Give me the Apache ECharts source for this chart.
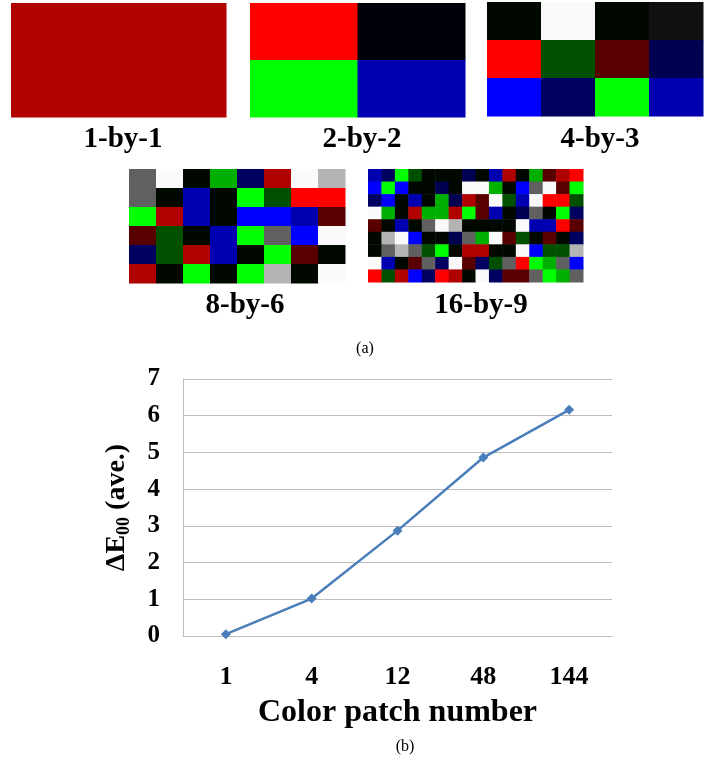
<!DOCTYPE html>
<html><head><meta charset="utf-8">
<script src="https://cdn.jsdelivr.net/npm/echarts@6/dist/echarts.min.js"></script>
<style>html,body{margin:0;padding:0;background:#fff}#c{width:722px;height:764px}</style>
</head><body><div id="c"></div>
<script>
// ---- palette names used by patch grids ----
const K='#000800', W='#fafafa', G='#606060', L='#b4b4b4', D='#101010';
const R='#ff0000', r='#b00000', M='#580000';
const Gn='#00ff00', g='#00b000', dg='#005000';
const B='#0000ff', b='#0000b0', N='#000060', n='#000050';

// ---- patch grids (rows top to bottom) ----
const patch1x1 = [[r]];
const patch2x2 = [[R,'#000008'],[Gn,b]];
const patch4x3 = [
  [K,W,K,D],
  [R,dg,M,n],
  [B,N,Gn,b]
];
const patch8x6 = [
  [G,W,K,g,N,r,W,L],
  [G,K,b,K,Gn,dg,R,R],
  [Gn,r,b,K,B,B,b,M],
  [M,dg,K,b,Gn,G,B,W],
  [N,dg,r,b,K,Gn,M,K],
  [r,K,Gn,K,Gn,L,K,W]
];
const patch16x9 = [
  [b,N,Gn,dg,K,K,K,n,K,b,r,K,g,M,r,R],
  [B,Gn,B,K,K,n,K,W,W,g,K,B,G,W,M,Gn],
  [N,B,K,b,K,g,n,r,M,W,dg,b,W,R,R,dg],
  [W,g,K,r,g,g,r,Gn,M,b,K,n,G,K,Gn,N],
  [M,K,b,K,G,W,L,K,K,K,K,W,b,b,R,M],
  [K,L,W,B,K,K,n,G,g,W,M,dg,K,M,K,N],
  [K,G,L,G,dg,Gn,K,r,r,K,K,W,B,dg,dg,L],
  [W,b,K,M,G,N,W,M,N,dg,G,R,Gn,g,G,B],
  [R,dg,r,B,N,R,r,K,W,N,M,M,G,Gn,g,G]
];
const patchLabels = ['1-by-1','2-by-2','4-by-3','8-by-6','16-by-9'];

// ---- line chart ----
const categories = ['1','4','12','48','144'];
const deltaE = [0.05, 1.02, 2.87, 4.86, 6.16];
const yTicks = [0,1,2,3,4,5,6,7];

const SERIF = '"Liberation Serif","Times New Roman",serif';
const patches = [patch1x1, patch2x2, patch4x3, patch8x6, patch16x9];
const boxes = [
  {left:11, top:3, width:215, height:114},
  {left:250, top:3, width:215, height:114},
  {left:487, top:2, width:216, height:114},
  {left:129, top:169, width:216, height:114},
  {left:368, top:169, width:215, height:113}
];
const labelPos = [[118,120],[357,120],[595,120],[240,286],[476,286]];

const grids=[], xAxes=[], yAxes=[], series=[], titles=[];
patches.forEach((p,i)=>{
  grids.push(Object.assign({containLabel:false}, boxes[i]));
  const cols=p[0].length, rows=p.length;
  xAxes.push({type:'category', gridIndex:i, data:[...Array(cols).keys()], show:false, boundaryGap:true});
  yAxes.push({type:'category', gridIndex:i, data:[...Array(rows).keys()], show:false, inverse:true, boundaryGap:true});
  const data=[];
  p.forEach((row,ri)=>row.forEach((c,ci)=>data.push({value:[ci,ri], itemStyle:{color:c}})));
  series.push({
    type:'custom', xAxisIndex:i, yAxisIndex:i, data, silent:true,
    renderItem(params, api){
      const pt=api.coord([api.value(0), api.value(1)]);
      const s=api.size([1,1]);
      return {type:'rect', shape:{x:pt[0]-s[0]/2, y:pt[1]-s[1]/2, width:s[0]+0.5, height:s[1]+0.5},
        style:{fill:api.visual('color')}};
    }
  });
  titles.push({text:patchLabels[i], left:labelPos[i][0], top:labelPos[i][1], textAlign:'center',
    textStyle:{fontFamily:SERIF, fontWeight:'bold', fontSize:29, color:'#000'}});
});
titles.push({text:'(a)', left:360, top:336, textAlign:'center', textStyle:{fontFamily:SERIF, fontWeight:'normal', fontSize:16, color:'#000'}});
titles.push({text:'(b)', left:400, top:734, textAlign:'center', textStyle:{fontFamily:SERIF, fontWeight:'normal', fontSize:16, color:'#000'}});

const gi = patches.length;
grids.push({left:183, top:379, width:429, height:257, containLabel:false});
xAxes.push({type:'category', gridIndex:gi, data:categories, boundaryGap:true,
  axisLine:{show:true, lineStyle:{color:'#bdbdbd', width:1}}, axisTick:{show:false},
  axisLabel:{fontFamily:SERIF, fontWeight:'bold', fontSize:26, color:'#000', margin:28},
  name:'Color patch number', nameLocation:'middle', nameGap:61,
  nameTextStyle:{fontFamily:SERIF, fontWeight:'bold', fontSize:32, color:'#000'}});
yAxes.push({type:'value', gridIndex:gi, min:yTicks[0], max:yTicks[yTicks.length-1], interval:1,
  axisLine:{show:true, lineStyle:{color:'#bdbdbd', width:1}}, axisTick:{show:false},
  splitLine:{show:true, lineStyle:{color:'#bdbdbd', width:1}},
  axisLabel:{fontFamily:SERIF, fontWeight:'bold', fontSize:25, color:'#000', margin:23},
  name:'{a|ΔE}{s|00}{a| (ave.)}', nameLocation:'middle', nameGap:50, nameRotate:90,
  nameTextStyle:{fontFamily:SERIF, fontWeight:'bold', fontSize:28, color:'#000',
    rich:{a:{fontFamily:SERIF, fontWeight:'bold', fontSize:28, color:'#000', lineHeight:32},
          s:{fontFamily:SERIF, fontWeight:'bold', fontSize:18, color:'#000', verticalAlign:'bottom', lineHeight:32, padding:[10,0,0,0]}}}});
series.push({type:'line', xAxisIndex:gi, yAxisIndex:gi, data:deltaE,
  lineStyle:{color:'#4a7ebb', width:2.5}, itemStyle:{color:'#4a7ebb'},
  symbol:'diamond', symbolSize:10, showSymbol:true, animation:false});

const chart = echarts.init(document.getElementById('c'));
chart.setOption({animation:false, backgroundColor:'#fff', title:titles, grid:grids, xAxis:xAxes, yAxis:yAxes, series});
</script></body></html>
